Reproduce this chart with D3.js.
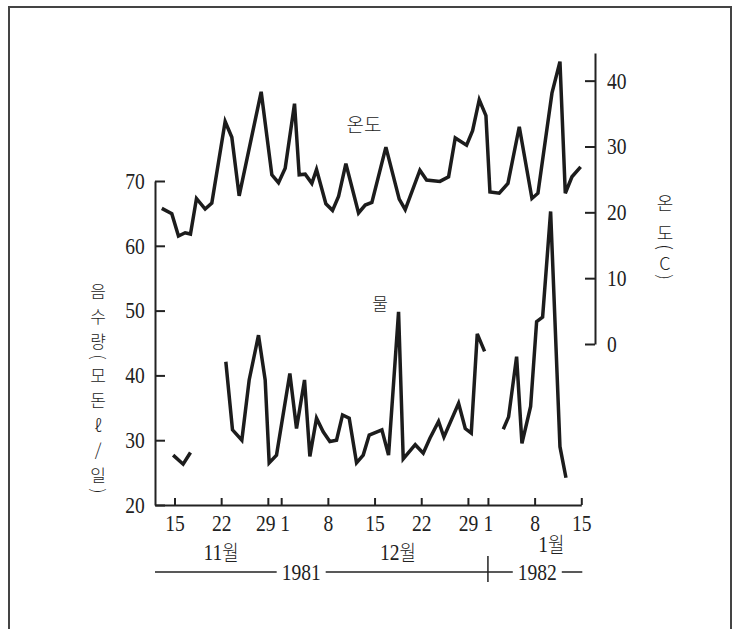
<!DOCTYPE html>
<html lang="ko">
<head>
<meta charset="UTF-8">
<script src="https://d3js.org/d3.v7.min.js"></script>
<style>
body { margin:0; background:#fff; }
svg text { fill:#222; }
</style>
<title>온도 / 물</title>
</head>
<body>
<script>
// days counted from 15 Nov 1981
var tempDays = [-1.9, -0.4, 0.6, 1.6, 2.4, 3.3, 4.6, 5.6, 7.6, 8.6, 9.7, 13.0, 14.6, 15.6, 16.6, 18.0, 18.7,
    19.6, 20.6, 21.3, 22.7, 23.7, 24.6, 25.7, 27.6, 28.6, 29.6, 31.7, 33.7, 34.6, 36.8, 37.8, 39.8, 41.1,
    42.1, 43.8, 44.7, 45.7, 46.7, 47.3, 48.7, 50.0, 51.7, 53.6, 54.5, 56.6, 57.8, 58.6, 59.6, 60.9];
var tempVals = [20.6, 19.8, 16.4, 16.9, 16.7, 22.1, 20.5, 21.4, 33.8, 31.4, 22.5, 38.3, 25.7, 24.5, 26.7, 36.5, 25.7,
    25.8, 24.4, 26.5, 21.3, 20.3, 22.4, 27.4, 19.9, 21.1, 21.5, 29.9, 22.0, 20.4, 26.4, 24.9, 24.7, 25.4,
    31.3, 30.2, 32.4, 37.1, 34.7, 23.1, 22.9, 24.4, 33.0, 22.1, 22.9, 38.1, 42.9, 22.9, 25.4, 26.9];

// null = no record (gap in the line)
var waterDays = [-0.2, 1.3, 2.4, null,
    7.7, 8.7, 10.1, 11.2, 12.6, 13.6, 14.2, 15.3, 17.3, 18.3, 19.5, 20.3, 21.3, 22.3, 23.3, 24.3, 25.2,
    26.2, 27.3, 28.3, 29.2, 31.1, 32.1, 33.6, 34.3, 36.1, 37.3, 38.3, 39.6, 40.4, 42.6, 43.6, 44.5, 45.4, 46.5, null,
    49.3, 50.1, 51.3, 52.1, 53.4, 54.3, 55.2, 56.4, 57.8, 58.7];
var waterVals = [27.7, 26.3, 28.1, null,
    42.1, 31.6, 30.0, 39.3, 46.2, 39.3, 26.5, 27.7, 40.3, 31.8, 39.3, 27.5, 33.4, 31.3, 29.8, 30.0, 33.9,
    33.4, 26.5, 27.7, 30.8, 31.6, 27.7, 49.8, 27.1, 29.3, 28.0, 30.3, 32.9, 30.5, 35.7, 31.8, 31.1, 46.4, 43.7, null,
    31.7, 33.6, 42.9, 29.5, 35.2, 48.3, 49.0, 65.3, 29.0, 24.2];

var tickDays = [0, 7, 14, 16, 23, 30, 37, 44, 47, 54, 61];
var tickLabels = ["15", "22", "29", "1", "8", "15", "22", "29", "1", "8", "15"];
var monthDays = [7, 33.5, 56.5];
var monthLabels = ["11", "12", "1"];
var yearDays = [19, 54.4];
var yearLabels = ["1981", "1982"];
var yearBreak = 47;
var waterTicks = [20, 30, 40, 50, 60, 70];
var tempTicks = [0, 10, 20, 30, 40];

var leftTitle = ["음", "수", "량", "(", "모", "돈", "ℓ", "/", "일", ")"];
var rightTitle = ["온", "도", "(", "C", ")"];

var W = 736, H = 629;
var serif = '"Liberation Serif", "DejaVu Serif", serif';
var kr = '"Noto Sans CJK KR", "Noto Sans", sans-serif';
var squeeze = "scale(0.85,1)";

var svg = d3.select("body").append("svg")
    .attr("width", W)
    .attr("height", H);

// frame round the figure
svg.append("rect")
    .attr("x", 9).attr("y", 7)
    .attr("width", 722).attr("height", 640)
    .attr("fill", "none")
    .attr("stroke", "#444")
    .attr("stroke-width", 2);

var x = d3.scaleLinear().domain([-2.92, 61]).range([155, 581.3]);
var yW = d3.scaleLinear().domain([20, 70]).range([505, 181]);
var yT = d3.scaleLinear().domain([0, 44.2]).range([344, 53]);
var rightX = 595;

function styleAxis(g) {
    g.select(".domain").attr("stroke", "#222").attr("stroke-width", 2);
    g.selectAll(".tick line").attr("stroke", "#222").attr("stroke-width", 2);
    g.selectAll(".tick text")
        .attr("font-family", serif)
        .attr("font-size", 23)
        .attr("fill", "#222")
        .attr("transform", squeeze);
}

var xAxis = svg.append("g")
    .attr("transform", "translate(0," + yW(20) + ")")
    .call(d3.axisBottom(x).tickValues(tickDays)
        .tickFormat(function(d, i) { return tickLabels[i]; })
        .tickSizeInner(-7).tickSizeOuter(0).tickPadding(10))
    .call(styleAxis);

// "29" and "1" sit only two days apart: pull them a little away from each other
xAxis.selectAll(".tick text")
    .attr("dx", function(d, i) { return i === 2 ? -3 : (i === 3 ? 4 : 0); });

svg.append("g")
    .attr("transform", "translate(" + x.range()[0] + ",0)")
    .call(d3.axisLeft(yW).tickValues(waterTicks)
        .tickSizeInner(-10).tickSizeOuter(0).tickPadding(12))
    .call(styleAxis);

svg.append("g")
    .attr("transform", "translate(" + rightX + ",0)")
    .call(d3.axisRight(yT).tickValues(tempTicks)
        .tickSizeInner(-10).tickSizeOuter(0).tickPadding(14))
    .call(styleAxis);

// series
var tempLine = d3.line()
    .x(function(d) { return x(d[0]); })
    .y(function(d) { return yT(d[1]); });

var waterLine = d3.line()
    .defined(function(d) { return d[1] != null; })
    .x(function(d) { return x(d[0]); })
    .y(function(d) { return yW(d[1]); });

svg.append("path")
    .datum(d3.zip(tempDays, tempVals))
    .attr("d", tempLine)
    .attr("fill", "none")
    .attr("stroke", "#1c1c1c")
    .attr("stroke-width", 3.5)
    .attr("stroke-linejoin", "miter");

svg.append("path")
    .datum(d3.zip(waterDays, waterVals))
    .attr("d", waterLine)
    .attr("fill", "none")
    .attr("stroke", "#1c1c1c")
    .attr("stroke-width", 3.5)
    .attr("stroke-linejoin", "miter");

// series names
svg.append("text")
    .attr("x", 364).attr("y", 123)
    .attr("text-anchor", "middle").attr("dominant-baseline", "central")
    .attr("font-family", kr).attr("font-weight", 300).attr("font-size", 19)
    .text("온도");

svg.append("text")
    .attr("x", 380).attr("y", 302)
    .attr("text-anchor", "middle").attr("dominant-baseline", "central")
    .attr("font-family", kr).attr("font-weight", 300).attr("font-size", 17)
    .text("물");

// month labels
svg.selectAll(".month").data(monthLabels).enter()
  .append("text")
    .attr("class", "month")
    .attr("transform", function(d, i) {
        return "translate(" + x(monthDays[i]) + "," + (i === 2 ? 552 : 560) + ") " + squeeze;
    })
    .attr("text-anchor", "middle")
    .attr("font-family", serif).attr("font-size", 23)
    .each(function(d) {
        var t = d3.select(this);
        t.append("tspan").text(d);
        t.append("tspan").attr("font-family", kr).attr("font-weight", 300).attr("font-size", 21).text("월");
    });

// year bracket
var yearY = 572;
var halfW = 19.5;
var segs = [
    [x.range()[0], x(yearDays[0]) - halfW - 5],
    [x(yearDays[0]) + halfW + 5, x(yearDays[1]) - halfW - 5],
    [x(yearDays[1]) + halfW + 5, x(61) + 1]
];
svg.selectAll(".yearline").data(segs).enter()
  .append("line")
    .attr("class", "yearline")
    .attr("x1", function(d) { return d[0]; })
    .attr("x2", function(d) { return d[1]; })
    .attr("y1", yearY).attr("y2", yearY)
    .attr("stroke", "#222").attr("stroke-width", 1.5);

svg.append("line")
    .attr("x1", x(yearBreak)).attr("x2", x(yearBreak))
    .attr("y1", yearY - 16).attr("y2", yearY + 10)
    .attr("stroke", "#222").attr("stroke-width", 1.5);

svg.selectAll(".year").data(yearLabels).enter()
  .append("text")
    .attr("class", "year")
    .attr("transform", function(d, i) { return "translate(" + x(yearDays[i]) + "," + (yearY + 8) + ") " + squeeze; })
    .attr("text-anchor", "middle")
    .attr("font-family", serif).attr("font-size", 23)
    .text(function(d) { return d; });

// stacked (vertical) axis titles
function stackTitle(chars, cx, y0, stepFull, stepParen, size) {
    var y = y0, prev = null;
    chars.forEach(function(c) {
        var paren = (c === "(" || c === ")");
        if (prev !== null) y += (paren || prev) ? stepParen : stepFull;
        var t = svg.append("text")
            .attr("x", cx).attr("y", y)
            .attr("text-anchor", "middle").attr("dominant-baseline", "central")
            .attr("font-family", kr).attr("font-weight", 300).attr("font-size", size)
            .text(c);
        if (paren) t.attr("transform", "rotate(90," + cx + "," + y + ")");
        prev = paren;
    });
}
stackTitle(leftTitle, 98, 290, 25, 17, 17);
stackTitle(rightTitle, 665, 202, 30, 15, 18);
</script>
</body>
</html>
